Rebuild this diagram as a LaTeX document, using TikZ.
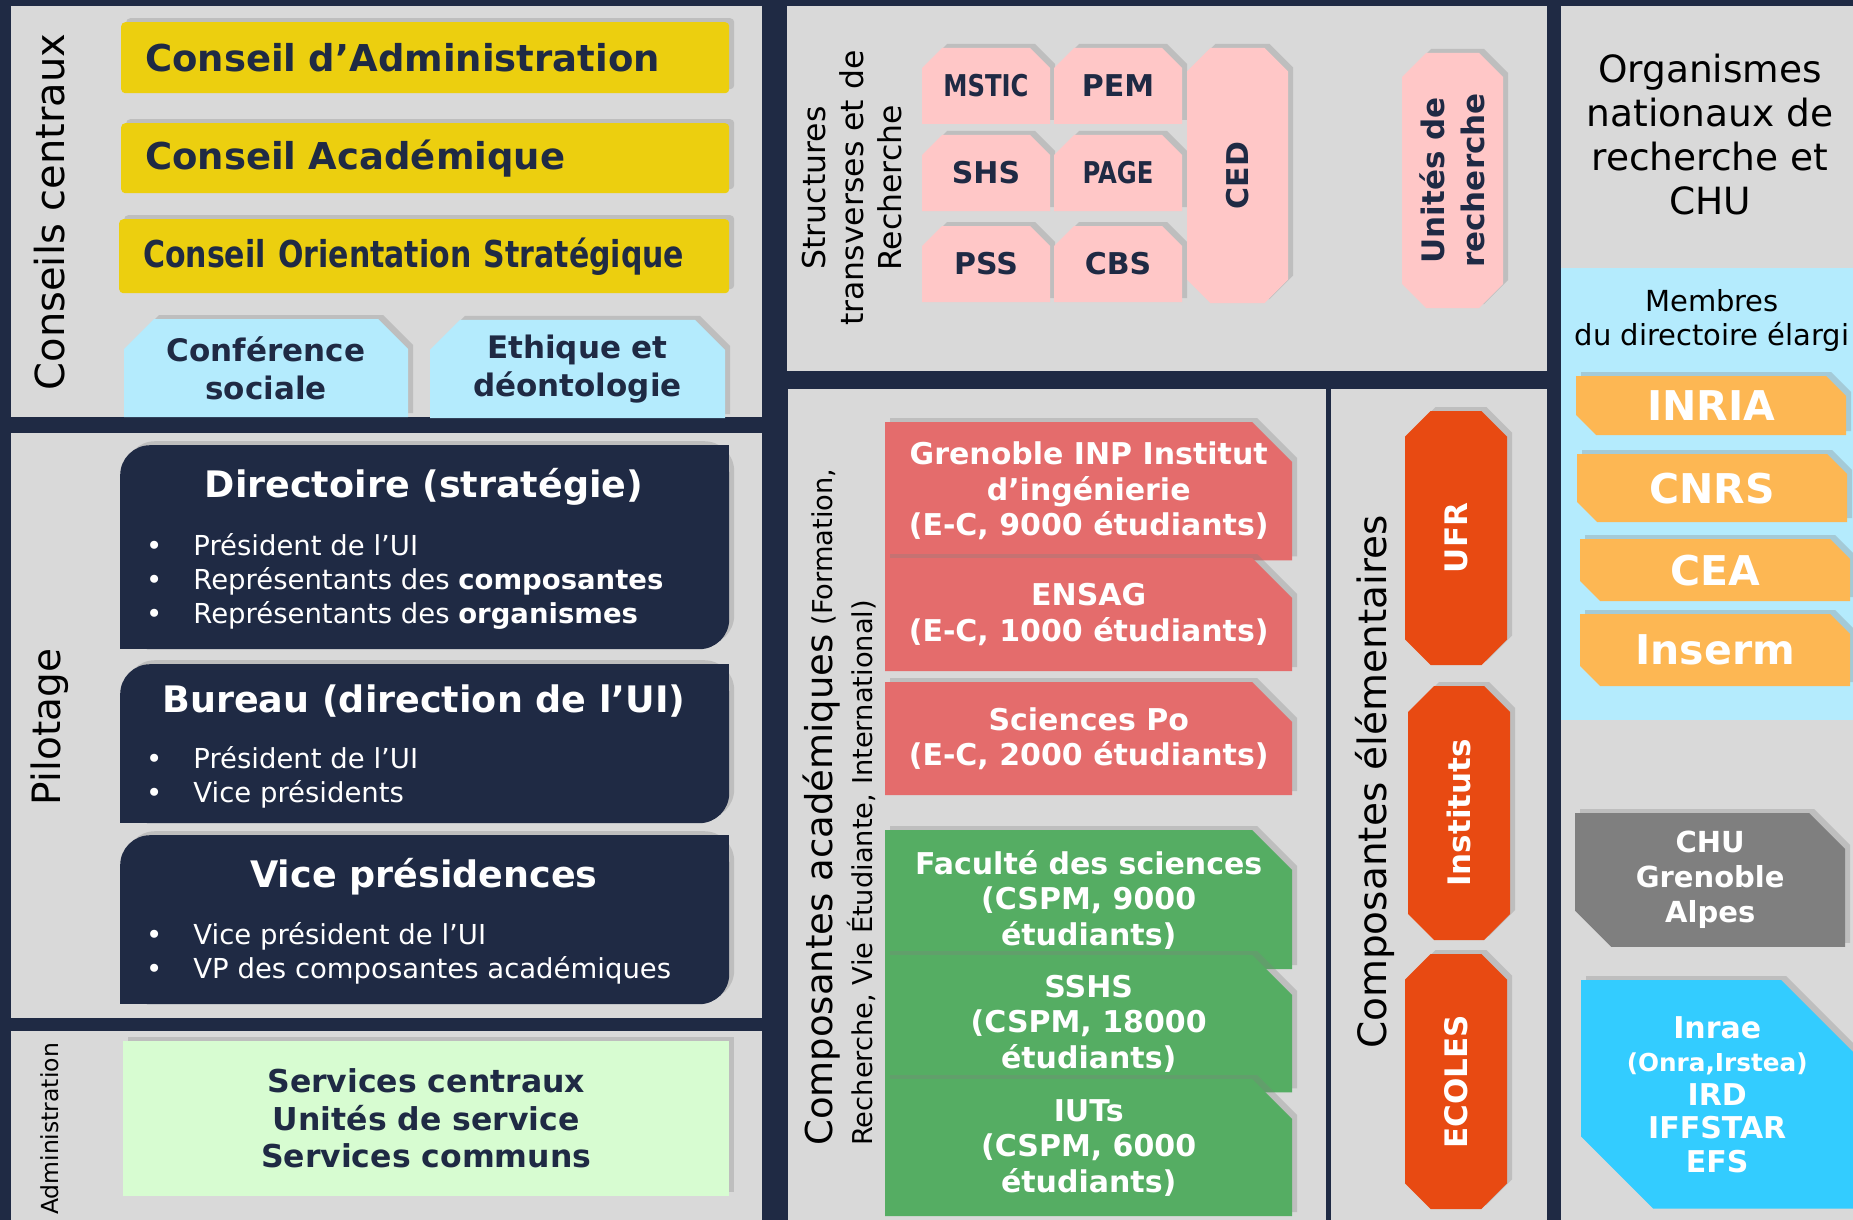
\documentclass[tikz,border=0pt]{standalone}
\usepackage{fontspec}
\setmainfont{DejaVu Sans}
\newfontfamily\narrowfont[FakeStretch=0.81]{DejaVu Sans}
\usepackage{xcolor}
\usetikzlibrary{shapes.misc,shadows,positioning}

\definecolor{navy}{HTML}{1F2A44}
\definecolor{panelgray}{HTML}{D9D9D9}
\definecolor{cyellow}{HTML}{ECCF0F}
\definecolor{clightblue}{HTML}{B4EBFD}
\definecolor{clightgreen}{HTML}{D7FCD1}
\definecolor{cpink}{HTML}{FFC7C7}
\definecolor{cred}{HTML}{E46C6C}
\definecolor{cgreen}{HTML}{55AD63}
\definecolor{corangered}{HTML}{E84A12}
\definecolor{corange}{HTML}{FDB753}
\definecolor{cgraybox}{HTML}{7F7F7F}
\definecolor{ccyan}{HTML}{33CCFF}

\tikzstyle{tsShadow} = [
    drop shadow={shadow xshift=5pt, shadow yshift=4pt, opacity=0.3}
]
\tikzstyle{tsLabel} = [
    text=black,
    rotate=90,
    inner sep=0pt,
    align=center
]
\tikzstyle{tsYellow} = [
    rectangle,
    tsShadow,
    fill=cyellow,
    text=navy,
    rounded corners=4pt,
    anchor=north west,
    inner sep=0pt,
    inner xsep=24pt,
    align=left,
    font=\bfseries\fontsize{37}{44}\selectfont
]
\tikzstyle{tsSoft} = [
    chamfered rectangle,
    chamfered rectangle corners={north west,north east},
    chamfered rectangle xsep=15pt,
    chamfered rectangle ysep=15pt,
    tsShadow,
    fill=clightblue,
    text=navy,
    inner sep=0pt,
    align=center,
    font=\bfseries\fontsize{31}{38}\selectfont
]
\tikzstyle{tsPilot} = [
    rectangle,
    tsShadow,
    fill=navy,
    rounded corners=30pt,
    anchor=north west,
    inner sep=0pt
]
\tikzstyle{tsTitle} = [
    text=white,
    font=\bfseries\fontsize{36.5}{44}\selectfont
]
\tikzstyle{tsList} = [
    text=white,
    anchor=west,
    inner sep=0pt,
    font=\fontsize{27.5}{34}\selectfont
]
\tikzstyle{tsAdmin} = [
    rectangle,
    tsShadow,
    fill=clightgreen,
    text=navy,
    anchor=north west,
    inner sep=0pt,
    align=center,
    font=\bfseries\fontsize{31.5}{37.5}\selectfont
]
\tikzstyle{tsPink} = [
    chamfered rectangle,
    chamfered rectangle corners={north west,north east},
    chamfered rectangle xsep=10pt,
    chamfered rectangle ysep=10pt,
    tsShadow,
    fill=cpink,
    text=navy,
    inner sep=0pt,
    minimum width=128pt,
    minimum height=76pt,
    font=\bfseries\fontsize{30}{36}\selectfont
]
\tikzstyle{tsPinkTall} = [
    chamfered rectangle,
    chamfered rectangle xsep=12pt,
    chamfered rectangle ysep=12pt,
    tsShadow,
    fill=cpink,
    text=navy,
    rotate=90,
    inner sep=0pt,
    align=center,
    minimum width=255pt,
    minimum height=101pt,
    font=\bfseries\fontsize{31}{40}\selectfont
]
\tikzstyle{tsSchool} = [
    chamfered rectangle,
    chamfered rectangle corners={north east},
    chamfered rectangle xsep=20pt,
    chamfered rectangle ysep=20pt,
    tsShadow,
    text=white,
    anchor=north west,
    inner sep=0pt,
    align=center,
    minimum width=407pt,
    minimum height=113pt,
    font=\bfseries\fontsize{30}{35.5}\selectfont
]
\tikzstyle{tsElem} = [
    chamfered rectangle,
    chamfered rectangle xsep=14pt,
    chamfered rectangle ysep=14pt,
    tsShadow,
    fill=corangered,
    text=white,
    rotate=90,
    inner sep=0pt,
    minimum width=254pt,
    minimum height=102pt,
    font=\bfseries\fontsize{31}{36}\selectfont
]
\tikzstyle{tsOrg} = [
    chamfered rectangle,
    chamfered rectangle corners={north east,south west},
    chamfered rectangle xsep=10pt,
    chamfered rectangle ysep=10pt,
    tsShadow,
    text=white,
    anchor=north west,
    inner sep=0pt,
    align=center,
    minimum width=270pt
]

\begin{document}
\begin{tikzpicture}[x=1pt, y=-1pt]

    \useasboundingbox (0,0) rectangle (1853,1220);
    \fill[navy] (0,0) rectangle (1853,1220);

    % panels
    \fill[panelgray] (11,6) rectangle (762,417);
    \fill[panelgray] (11,433) rectangle (762,1018);
    \fill[panelgray] (11,1031) rectangle (762,1220);
    \fill[panelgray] (787,6) rectangle (1547,371);
    \fill[panelgray] (788,389) rectangle (1326,1220);
    \fill[panelgray] (1331,389) rectangle (1547,1220);
    \fill[panelgray] (1561,6) rectangle (1853,1220);
    \fill[clightblue] (1561,268) rectangle (1853,720);

    \node[tsLabel, font=\fontsize{40}{48}\selectfont] (lcc) at (50,212) {Conseils centraux};
    \node[tsLabel, font=\fontsize{39}{46}\selectfont] (lpil) at (50,727) {Pilotage};
    \node[tsLabel, font=\fontsize{23.5}{28}\selectfont] (ladm) at (50,1129) {Administration};
    \node[tsLabel, font=\fontsize{31.5}{38}\selectfont] (lstr) at (852,188) {Structures\\transverses et de\\Recherche};
    \node[tsLabel, anchor=west, align=left, font=\fontsize{27.3}{40}\selectfont] (lacad) at (839,1146)
        {{\fontsize{37}{40}\selectfont Composantes académiques} (Formation,\\Recherche, Vie Étudiante, International)};
    \node[tsLabel, font=\fontsize{39}{46}\selectfont] (lelem) at (1375,782) {Composantes élémentaires};
    \node[text=black, align=center, font=\fontsize{37.5}{44}\selectfont] (lorg) at (1710,135)
        {Organismes\\nationaux de\\recherche et\\CHU};
    \node[text=black, align=center, font=\fontsize{29}{34}\selectfont] (lmem) at (1712,320)
        {Membres\\du directoire élargi};

    % conseils centraux
    \node[tsYellow, text width=560pt, minimum height=71pt] (ca) at (121,22) {Conseil d’Administration};
    \node[tsYellow, text width=560pt, minimum height=70pt] (cac) at (121,123) {Conseil Académique};
    \node[tsYellow, text width=562pt, minimum height=74pt,
          font=\narrowfont\bfseries\fontsize{37}{44}\selectfont] (cos) at (119,219) {Conseil Orientation Stratégique};
    \node[tsSoft, minimum width=284pt, minimum height=98pt] (cs) at (266,368) {Conférence\\sociale};
    \node[tsSoft, minimum width=295pt, minimum height=96pt] (eth) at (577.5,369) {Ethique et\\déontologie};

    % pilotage
    \node[tsPilot, minimum width=609pt, minimum height=204pt] (dir) at (120,445) {};
    \fill[navy] (dir.north east) rectangle ++(-32,32);
    \fill[navy] (dir.south west) rectangle ++(32,-32);
    \node[tsPilot, minimum width=609pt, minimum height=159pt] (bur) at (120,664) {};
    \fill[navy] (bur.north east) rectangle ++(-32,32);
    \fill[navy] (bur.south west) rectangle ++(32,-32);
    \node[tsPilot, minimum width=609pt, minimum height=169pt] (vp) at (120,835) {};
    \fill[navy] (vp.north east) rectangle ++(-32,32);
    \fill[navy] (vp.south west) rectangle ++(32,-32);

    \node[tsTitle] (dirt) at (424,487) {Directoire (stratégie)};
    \node[tsList] (dirl) at (146,583) {\begin{tabular}{@{}l@{\hspace{31pt}}l@{}}
        \textbullet & Président de l’UI\\
        \textbullet & Représentants des \textbf{composantes}\\
        \textbullet & Représentants des \textbf{organismes}
    \end{tabular}};
    \node[tsTitle] (burt) at (424,701) {Bureau (direction de l’UI)};
    \node[tsList] (burl) at (146,779) {\begin{tabular}{@{}l@{\hspace{31pt}}l@{}}
        \textbullet & Président de l’UI\\
        \textbullet & Vice présidents
    \end{tabular}};
    \node[tsTitle] (vpt) at (424,877) {Vice présidences};
    \node[tsList] (vpl) at (146,955) {\begin{tabular}{@{}l@{\hspace{31pt}}l@{}}
        \textbullet & Vice président de l’UI\\
        \textbullet & VP des composantes académiques
    \end{tabular}};

    % administration
    \node[tsAdmin, minimum width=606pt, minimum height=155pt] (svc) at (123,1041)
        {Services centraux\\Unités de service\\Services communs};

    % structures transverses
    \node[tsPink, font=\narrowfont\bfseries\fontsize{30}{36}\selectfont] (mstic) at (986,86) {MSTIC};
    \node[tsPink] (pem) at (1118,86) {PEM};
    \node[tsPink] (shs) at (986,173) {SHS};
    \node[tsPink, font=\narrowfont\bfseries\fontsize{30}{36}\selectfont] (page) at (1118,173) {PAGE};
    \node[tsPink] (pss) at (986,264) {PSS};
    \node[tsPink] (cbs) at (1118,264) {CBS};
    \node[tsPinkTall, font=\bfseries\fontsize{30}{36}\selectfont] (ced) at (1237.5,175.5) {CED};
    \node[tsPinkTall] (ur) at (1452.5,180.5) {Unités de\\recherche};

    % composantes academiques
    \node[tsSchool, fill=cred, minimum height=126pt] (gin) at (885,422)
        {Grenoble INP Institut\\d’ingénierie\\(E-C, 9000 étudiants)};
    \node[tsSchool, fill=cred] (ensag) at (885,558) {ENSAG\\(E-C, 1000 étudiants)};
    \node[tsSchool, fill=cred] (scpo) at (885,682) {Sciences Po\\(E-C, 2000 étudiants)};
    \node[tsSchool, fill=cgreen] (fac) at (885,830) {Faculté des sciences\\(CSPM, 9000\\étudiants)};
    \node[tsSchool, fill=cgreen] (sshs) at (885,955) {SSHS\\(CSPM, 18000\\étudiants)};
    \node[tsSchool, fill=cgreen, minimum height=114pt] (iut) at (885,1079) {IUTs\\(CSPM, 6000\\étudiants)};

    % composantes elementaires
    \node[tsElem] (ufr) at (1456,538) {UFR};
    \node[tsElem] (inst) at (1459,813) {Instituts};
    \node[tsElem, minimum width=255pt] (ecoles) at (1456,1081.5) {ECOLES};

    % organismes
    \node[tsOrg, fill=corange, minimum height=59pt, font=\bfseries\fontsize{41}{48}\selectfont] (inria) at (1576,376) {INRIA};
    \node[tsOrg, fill=corange, minimum height=68pt, font=\bfseries\fontsize{41}{48}\selectfont] (cnrs) at (1577,454) {CNRS};
    \node[tsOrg, fill=corange, minimum height=62pt, font=\bfseries\fontsize{41}{48}\selectfont] (cea) at (1580,539) {CEA};
    \node[tsOrg, fill=corange, minimum height=72pt, font=\bfseries\fontsize{41}{48}\selectfont] (inserm) at (1580,614) {Inserm};
    \node[tsOrg, fill=cgraybox, minimum height=125pt, chamfered rectangle xsep=18pt, chamfered rectangle ysep=18pt,
          font=\bfseries\fontsize{29}{35}\selectfont] (chu) at (1575,813) {CHU\\Grenoble\\Alpes};
    \node[tsOrg, fill=ccyan, minimum width=272pt, minimum height=210pt, chamfered rectangle xsep=36pt, chamfered rectangle ysep=36pt,
          font=\bfseries\fontsize{30}{33.5}\selectfont] (epst) at (1581,980)
        {Inrae\\{\fontsize{24.7}{33.5}\selectfont (Onra,Irstea)}\\IRD\\IFFSTAR\\EFS};

\end{tikzpicture}
\end{document}
